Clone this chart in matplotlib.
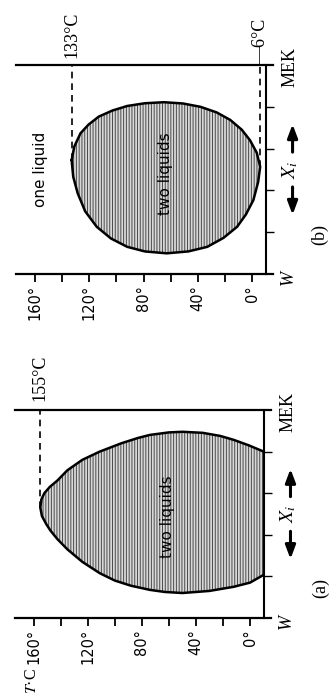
import matplotlib.pyplot as plt

# two-liquid boundary: mole fraction of MEK and temperature (deg C)
comp_a = [0.207, 0.17, 0.15, 0.13, 0.12, 0.125, 0.135, 0.155, 0.18, 0.215, 0.27, 0.33,
          0.38, 0.42, 0.45, 0.49, 0.53, 0.57, 0.60, 0.63, 0.66, 0.71, 0.76, 0.80, 0.84,
          0.865, 0.88, 0.892, 0.895, 0.89, 0.875, 0.856, 0.83, 0.80]
temp_a = [-10, 0, 12, 30, 50, 63, 74, 88, 100, 111, 124, 135,
          142.5, 147.5, 150.5, 153.8, 155, 154.2, 152, 148, 142.5, 135, 124, 111, 95,
          83, 74, 60, 50, 35, 22, 12, 1, -10]

comp_b = [0.545, 0.61, 0.673, 0.715, 0.753, 0.782, 0.804, 0.817, 0.822, 0.816, 0.80,
          0.773, 0.737, 0.69, 0.64, 0.58, 0.513, 0.44, 0.354, 0.285, 0.226, 0.173,
          0.13, 0.108, 0.099, 0.108, 0.13, 0.17, 0.226, 0.30, 0.386, 0.465, 0.545]
temp_b = [133, 131, 126.5, 120.5, 113, 103, 92, 79, 65, 51, 38,
          26, 16, 7.5, 1.5, -3.5, -6, -4.5, -1, 4.5, 11, 21,
          33, 47, 63, 79, 92, 104, 114.5, 123, 128.5, 131.8, 133]

temp_ticks = [0, 20, 40, 60, 80, 100, 120, 140, 160]
temp_labels = ["0°", "", "40°", "", "80°", "", "120°", "", "160°"]
comp_ticks = [0.2, 0.4, 0.6, 0.8]

t_crit_a = 155
t_upper_b = 133
t_lower_b = -6

serif = "Liberation Serif"
sans = "DejaVu Sans"
plt.rcParams["hatch.linewidth"] = 0.7
plt.rcParams["mathtext.fontset"] = "stix"

fig = plt.figure(figsize=(3.29, 6.96), dpi=100)
ax_b = fig.add_axes([0.0486, 0.6063, 0.7587, 0.3003])
ax_a = fig.add_axes([0.0444, 0.1121, 0.7568, 0.2989])


def setup(ax):
    ax.set_xlim(174, -10)
    ax.set_ylim(0, 1)
    for s in ["left", "top", "bottom"]:
        ax.spines[s].set_visible(False)
    ax.spines["right"].set_linewidth(1.5)
    # W and MEK lines run a little past the right edge
    ax.axhline(0, 0, 1.028, color="black", lw=1.6, clip_on=False)
    ax.axhline(1, 0, 1.028, color="black", lw=1.6, clip_on=False)
    ax.set_xticks(temp_ticks)
    ax.set_xticklabels(temp_labels, rotation=90, fontsize=10.5, family=sans)
    ax.tick_params(axis="x", direction="out", length=6, width=1.3, pad=2)
    ax.yaxis.tick_right()
    ax.set_yticks(comp_ticks)
    ax.set_yticklabels([])
    ax.tick_params(axis="y", direction="out", length=6, width=1.0)
    ax.text(1.092, -0.015, "W", transform=ax.transAxes, rotation=90, ha="center",
            va="center", fontsize=13, family=serif, style="italic")
    ax.text(1.098, 0.99, "MEK", transform=ax.transAxes, rotation=90, ha="center",
            va="center", fontsize=13, family=serif)
    ax.annotate("", xy=(1.108, 0.27), xytext=(1.108, 0.43), xycoords="axes fraction",
                arrowprops=dict(arrowstyle="-|>,head_length=0.8,head_width=0.3",
                                color="black", lw=2.2))
    ax.annotate("", xy=(1.108, 0.73), xytext=(1.108, 0.57), xycoords="axes fraction",
                arrowprops=dict(arrowstyle="-|>,head_length=0.8,head_width=0.3",
                                color="black", lw=2.2))
    ax.text(1.10, 0.50, "$X_i$", transform=ax.transAxes, rotation=90, ha="center",
            va="center", fontsize=14)


def two_liquids(ax, temp, comp):
    ax.fill(temp, comp, facecolor="#d8d8d8", edgecolor="#4a4a4a", hatch="|" * 6, lw=0)
    ax.plot(temp, comp, color="black", lw=1.8, solid_capstyle="round")


# (b)
setup(ax_b)
two_liquids(ax_b, temp_b, comp_b)
ax_b.plot([t_upper_b, t_upper_b], [comp_b[temp_b.index(t_upper_b)], 1], "k--", lw=1.2,
          dashes=(4, 3))
ax_b.plot([t_lower_b, t_lower_b], [comp_b[temp_b.index(t_lower_b)], 1], "k--", lw=1.2,
          dashes=(4, 3))
ax_b.text(t_upper_b, 1.035, f"{t_upper_b}°C", rotation=90, ha="center", va="bottom",
          fontsize=13, family=serif)
ax_b.text(t_lower_b, 1.0, f"—{abs(t_lower_b)}°C", rotation=90, ha="center", va="bottom",
          fontsize=13, family=serif)
ax_b.text(156, 0.50, "one liquid", rotation=90, ha="center", va="center", fontsize=11,
          family=sans)
ax_b.text(64, 0.48, "two liquids", rotation=90, ha="center", va="center", fontsize=11,
          family=sans)
ax_b.text(1.218, 0.19, "(b)", transform=ax_b.transAxes, rotation=90, ha="center",
          va="center", fontsize=13, family=serif)

# (a)
setup(ax_a)
two_liquids(ax_a, temp_a, comp_a)
ax_a.plot([t_crit_a, t_crit_a], [comp_a[temp_a.index(t_crit_a)], 1], "k--", lw=1.2,
          dashes=(4, 3))
ax_a.text(t_crit_a, 1.045, f"{t_crit_a}°C", rotation=90, ha="center", va="bottom",
          fontsize=13, family=serif)
ax_a.text(61, 0.486, "two liquids", rotation=90, ha="center", va="center", fontsize=11,
          family=sans)
ax_a.text(1.227, 0.144, "(a)", transform=ax_a.transAxes, rotation=90, ha="center",
          va="center", fontsize=13, family=serif)
ax_a.text(0.07, -0.305, "$T$·C", transform=ax_a.transAxes, rotation=90, ha="center",
          va="center", fontsize=11.5, family=serif)

fig.savefig("out.png", dpi=100)
